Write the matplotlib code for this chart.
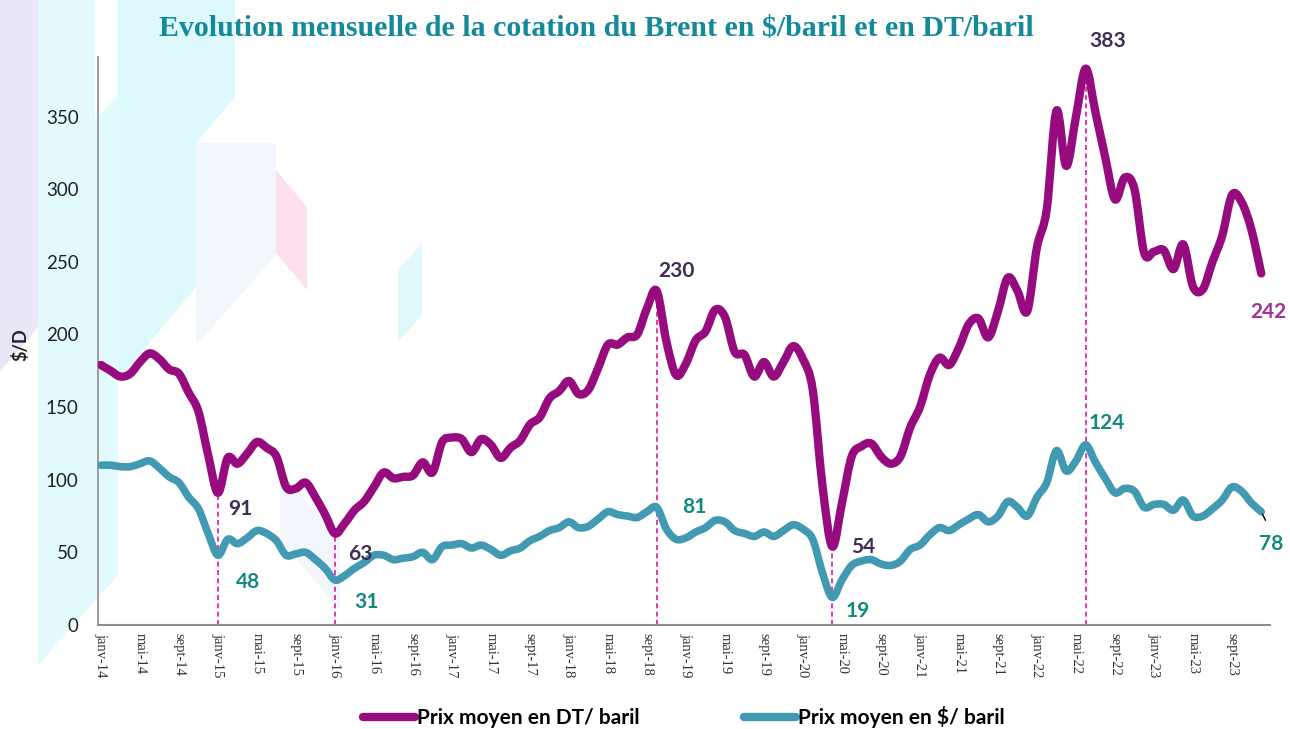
import matplotlib

matplotlib.use("Agg")
import matplotlib.pyplot as plt
from matplotlib.patches import Polygon, PathPatch
from matplotlib.path import Path
from matplotlib.lines import Line2D

# monthly data, janv-2014 .. dec-2023
prix_dt = [
    179, 175, 171, 173, 181, 187, 183, 176, 173, 160, 147, 117,   # 2014
    91, 115, 111, 118, 126, 122, 116, 95, 94, 98, 88, 76,         # 2015
    63, 70, 79, 85, 95, 105, 101, 102, 103, 112, 105, 126,        # 2016
    129, 128, 119, 128, 124, 115, 122, 127, 138, 143, 156, 161,   # 2017
    168, 159, 162, 177, 193, 193, 198, 200, 218, 230, 195, 172,   # 2018
    180, 196, 202, 217, 212, 188, 186, 171, 181, 171, 181, 192,   # 2019
    183, 162, 96, 54, 84, 116, 123, 125, 116, 111, 116, 136,      # 2020
    150, 172, 184, 179, 191, 207, 211, 198, 216, 239, 230, 216,   # 2021
    260, 286, 354, 316, 350, 383, 353, 322, 293, 308, 300, 256,   # 2022
    257, 258, 245, 262, 233, 231, 250, 268, 296, 291, 272, 242,   # 2023
]
prix_usd = [
    110, 110, 109, 109, 111, 113, 108, 102, 98, 88, 80, 63,
    48, 59, 56, 60, 65, 63, 58, 48, 49, 50, 45, 39,
    31, 34, 39, 43, 48, 48, 45, 46, 47, 50, 45, 54,
    55, 56, 53, 55, 52, 48, 51, 53, 58, 61, 65, 67,
    71, 67, 68, 73, 78, 76, 75, 74, 78, 81, 66, 59,
    60, 64, 67, 72, 71, 65, 63, 61, 64, 61, 65, 69,
    66, 59, 36, 19, 31, 41, 44, 45, 42, 41, 44, 52,
    55, 62, 67, 65, 69, 73, 76, 71, 75, 85, 81, 75,
    88, 98, 120, 106, 113, 124, 112, 101, 91, 94, 92, 81,
    83, 83, 79, 86, 75, 75, 80, 86, 95, 92, 84, 78,
]
years = list(range(2014, 2024))
month_names = ["janv", "févr", "mars", "avr", "mai", "juin",
               "juil", "août", "sept", "oct", "nov", "déc"]
tick_step = 4

# months marked with a dashed drop line (index into the series)
marked = [12, 24, 57, 75, 101]

C_DT = "#960b7e"
C_USD = "#4199b2"
C_DT_TXT = "#3f2d55"
C_USD_TXT = "#12897f"
C_DASH = "#e0179c"
C_TITLE = "#13899a"

n = len(prix_dt)
x = list(range(n))
labels = [f"{month_names[i % 12]}-{str(years[i // 12])[2:]}" for i in x]

W, H = 1290, 729
fig = plt.figure(figsize=(W / 100, H / 100), dpi=100)


def px_poly(pts, color):
    """background decoration, given in pixel coords (origin top-left)"""
    fp = [(px / W, 1 - py / H) for px, py in pts]
    fig.patches.append(Polygon(fp, closed=True, transform=fig.transFigure,
                               facecolor=color, edgecolor="none", zorder=-5))


def smooth_line(ax, xs, ys, **kw):
    """Excel-like smoothed line: Catmull-Rom through the data as Bezier segments."""
    pts = list(zip(xs, ys))
    verts, codes = [pts[0]], [Path.MOVETO]
    for i in range(len(pts) - 1):
        p0 = pts[i - 1] if i > 0 else pts[i]
        p1, p2 = pts[i], pts[i + 1]
        p3 = pts[i + 2] if i + 2 < len(pts) else p2
        c1 = (p1[0] + (p2[0] - p0[0]) / 6, p1[1] + (p2[1] - p0[1]) / 6)
        c2 = (p2[0] - (p3[0] - p1[0]) / 6, p2[1] - (p3[1] - p1[1]) / 6)
        verts += [c1, c2, p2]
        codes += [Path.CURVE4] * 3
    ax.add_patch(PathPatch(Path(verts, codes), facecolor="none", capstyle="round",
                           joinstyle="round", **kw))


# faint decorative shapes on the left
px_poly([(0, 0), (38, 0), (38, 327), (0, 372)], "#e9e7f7")
px_poly([(38, 0), (95, 0), (95, 120), (118, 95), (118, 575), (38, 665)], "#e2fafc")
px_poly([(118, 0), (235, 0), (235, 97), (196, 143), (196, 287), (118, 380)], "#ddf9fc")
px_poly([(196, 143), (276, 143), (276, 255), (196, 345)], "#f2f6fd")
px_poly([(276, 170), (307, 207), (307, 290), (276, 253)], "#fce0f0")
px_poly([(398, 270), (422, 243), (422, 315), (398, 342)], "#dff9fb")
px_poly([(280, 470), (340, 540), (340, 610), (280, 540)], "#f3f7fd")

ax = fig.add_axes([98 / W, 1 - 625 / H, (1270 - 98) / W, (625 - 57) / H])
ax.set_facecolor("none")

smooth_line(ax, x, prix_dt, edgecolor=C_DT, lw=6, zorder=3)
smooth_line(ax, x, prix_usd, edgecolor=C_USD, lw=5.5, zorder=3)

for i in marked:
    ax.vlines(i, 0, prix_dt[i], color=C_DASH, lw=1.2, linestyles=(0, (3, 2)), zorder=2)

lab_font = dict(family="Lato", fontweight="bold", fontsize=15)
# data labels, offsets in points from the data point
dt_off = {12: (16, -12), 24: (18, -15), 57: (14, 14), 75: (22, 0), 101: (16, 20), 119: (5, -28)}
for i, (dx, dy) in dt_off.items():
    col = "#a3318f" if i == 119 else C_DT_TXT
    ax.annotate(f"{prix_dt[i]}", (x[i], prix_dt[i]), textcoords="offset points",
                xytext=(dx, dy), ha="center", va="center", color=col, zorder=5, **lab_font)
usd_off = {12: (22, -19), 24: (23, -16), 57: (27, 0), 75: (18, -10), 101: (15, 16), 119: (7, -23)}
for i, (dx, dy) in usd_off.items():
    ax.annotate(f"{prix_usd[i]}", (x[i], prix_usd[i]), textcoords="offset points",
                xytext=(dx, dy), ha="center", va="center", color=C_USD_TXT, zorder=5, **lab_font)
# small leader for the last label
ax.annotate("", (x[-1], prix_usd[-1]), textcoords="offset points", xytext=(4, -8),
            arrowprops=dict(arrowstyle="-", color="black", lw=1), zorder=5)

ax.set_xlim(-0.3, 119.9)
ax.set_ylim(0, 391)
ax.set_yticks(range(0, 351, 50))
ax.set_xticks(x[::tick_step])
ax.set_xticklabels(labels[::tick_step], rotation=270, family="Liberation Serif",
                   fontsize=10.5, color="#333333")
for t in ax.get_yticklabels():
    t.set_family("Lato")
    t.set_fontsize(13.5)
    t.set_color("#222222")
ax.tick_params(axis="y", length=0, pad=14)
ax.tick_params(axis="x", length=0, pad=6)

for side in ("top", "right"):
    ax.spines[side].set_visible(False)
ax.spines["left"].set_color("#8c8c8c")
ax.spines["bottom"].set_color("#8c8c8c")
ax.spines["left"].set_linewidth(1.2)
ax.spines["bottom"].set_linewidth(1.5)

fig.text(20 / W, 1 - 345 / H, r"\$/D", rotation=90, ha="center", va="center",
         family="Lato", fontweight="bold", fontsize=13, color="#222222")

fig.text(596 / W, 1 - 28 / H, r"Evolution mensuelle de la cotation du Brent en \$/baril et en DT/baril",
         ha="center", va="center", family="Liberation Serif", fontweight="bold",
         fontsize=21.5, color=C_TITLE)

handles = [Line2D([0], [0], color=C_DT, lw=6, solid_capstyle="round"),
           Line2D([0], [0], color=C_USD, lw=6, solid_capstyle="round")]
fig.legend(handles, ["Prix moyen en DT/ baril", r"Prix moyen en \$/ baril"],
           loc="center", bbox_to_anchor=(684 / W, 1 - 717 / H), ncol=2, frameon=False,
           prop=dict(family="Lato", weight="bold", size=15), handlelength=2.5,
           handletextpad=0.1, columnspacing=5.0)

fig.savefig("out.png", dpi=100)
